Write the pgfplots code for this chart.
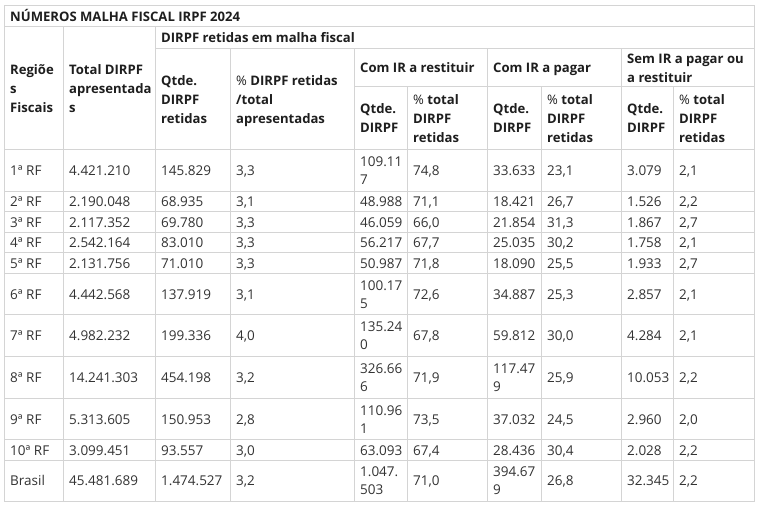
\documentclass[border=0pt]{standalone}
\usepackage{fontspec}
\setmainfont{Open Sans}
\usepackage{pgfplots}
\pgfplotsset{compat=1.18}
\definecolor{gridc}{RGB}{212,212,212}
\definecolor{txt}{RGB}{51,51,51}
\definecolor{hdr}{RGB}{30,30,30}
\pgfplotsset{gl/.style={draw=gridc, line width=1pt, mark=none, line cap=rect}}
\newcommand\C[3]{\node[anchor=base west,inner sep=0pt,text=txt,font=\fontsize{13.5}{16}\selectfont] at (axis cs:#1,#2) {#3};}
\newcommand\HD[3]{\node[anchor=base west,inner sep=0pt,text=hdr,font=\fontsize{13.1}{16}\selectfont\bfseries] at (axis cs:#1,#2) {#3};}
\begin{document}
\begin{tikzpicture}
\begin{axis}[scale only axis, width=761pt, height=510pt,
  xmin=0, xmax=761, ymin=0, ymax=510, y dir=reverse,
  axis lines=none, ticks=none, clip=false]
\fill[white] (axis cs:0,0) rectangle (axis cs:761,510);
% grid lines
\addplot[gl] coordinates {(4,6) (754,6)};
\addplot[gl] coordinates {(4,27) (754,27)};
\addplot[gl] coordinates {(155,48.5) (754,48.5)};
\addplot[gl] coordinates {(354,87) (754,87)};
\addplot[gl] coordinates {(4,150) (754,150)};
\addplot[gl] coordinates {(4,191.5) (754,191.5)};
\addplot[gl] coordinates {(4,212) (754,212)};
\addplot[gl] coordinates {(4,232.5) (754,232.5)};
\addplot[gl] coordinates {(4,253) (754,253)};
\addplot[gl] coordinates {(4,273.5) (754,273.5)};
\addplot[gl] coordinates {(4,315) (754,315)};
\addplot[gl] coordinates {(4,357) (754,357)};
\addplot[gl] coordinates {(4,398.5) (754,398.5)};
\addplot[gl] coordinates {(4,440) (754,440)};
\addplot[gl] coordinates {(4,460.5) (754,460.5)};
\addplot[gl] coordinates {(4,501.5) (754,501.5)};
\addplot[gl] coordinates {(4,6) (4,501.5)};
\addplot[gl] coordinates {(754,6) (754,501.5)};
\addplot[gl] coordinates {(63,27) (63,501.5)};
\addplot[gl] coordinates {(155,27) (155,501.5)};
\addplot[gl] coordinates {(230,48.5) (230,501.5)};
\addplot[gl] coordinates {(354,48.5) (354,501.5)};
\addplot[gl] coordinates {(487,48.5) (487,501.5)};
\addplot[gl] coordinates {(621,48.5) (621,501.5)};
\addplot[gl] coordinates {(407,87) (407,501.5)};
\addplot[gl] coordinates {(541,87) (541,501.5)};
\addplot[gl] coordinates {(673,87) (673,501.5)};
% headers
\HD{10}{21.5}{NÚMEROS MALHA FISCAL IRPF 2024}
\HD{10}{74.5}{Regiõe}\HD{10}{93.5}{s}\HD{10}{112.5}{Fiscais}
\HD{69}{74.5}{Total DIRPF}\HD{69}{93.5}{apresentada}\HD{69}{112.5}{s}
\HD{161}{42.75}{DIRPF retidas em malha fiscal}
\HD{161}{85.25}{Qtde.}\HD{161}{104.25}{DIRPF}\HD{161}{123.25}{retidas}
\HD{236}{85.25}{{\mdseries\%} DIRPF retidas}\HD{236}{104.25}{/total}\HD{236}{123.25}{apresentadas}
\HD{360}{72.75}{Com IR a restituir}
\HD{493}{72.75}{Com IR a pagar}
\HD{627}{63.25}{Sem IR a pagar ou}\HD{627}{82.25}{a restituir}
\HD{360}{114}{Qtde.}\HD{360}{133}{DIRPF}
\HD{493}{114}{Qtde.}\HD{493}{133}{DIRPF}
\HD{627}{114}{Qtde.}\HD{627}{133}{DIRPF}
\HD{413}{104.5}{{\mdseries\%} total}\HD{413}{123.5}{DIRPF}\HD{413}{142.5}{retidas}
\HD{547}{104.5}{{\mdseries\%} total}\HD{547}{123.5}{DIRPF}\HD{547}{142.5}{retidas}
\HD{679}{104.5}{{\mdseries\%} total}\HD{679}{123.5}{DIRPF}\HD{679}{142.5}{retidas}
% row 1
\C{10}{175.75}{1ª RF}\C{69}{175.75}{4.421.210}\C{161}{175.75}{145.829}\C{236}{175.75}{3,3}
\C{360}{166.75}{109.11}\C{360}{184.75}{7}\C{413}{175.75}{74,8}\C{493}{175.75}{33.633}
\C{547}{175.75}{23,1}\C{627}{175.75}{3.079}\C{679}{175.75}{2,1}
% row 2
\C{10}{206.75}{2ª RF}\C{69}{206.75}{2.190.048}\C{161}{206.75}{68.935}\C{236}{206.75}{3,1}
\C{360}{206.75}{48.988}\C{413}{206.75}{71,1}\C{493}{206.75}{18.421}
\C{547}{206.75}{26,7}\C{627}{206.75}{1.526}\C{679}{206.75}{2,2}
% row 3
\C{10}{227.25}{3ª RF}\C{69}{227.25}{2.117.352}\C{161}{227.25}{69.780}\C{236}{227.25}{3,3}
\C{360}{227.25}{46.059}\C{413}{227.25}{66,0}\C{493}{227.25}{21.854}
\C{547}{227.25}{31,3}\C{627}{227.25}{1.867}\C{679}{227.25}{2,7}
% row 4
\C{10}{247.75}{4ª RF}\C{69}{247.75}{2.542.164}\C{161}{247.75}{83.010}\C{236}{247.75}{3,3}
\C{360}{247.75}{56.217}\C{413}{247.75}{67,7}\C{493}{247.75}{25.035}
\C{547}{247.75}{30,2}\C{627}{247.75}{1.758}\C{679}{247.75}{2,1}
% row 5
\C{10}{268.25}{5ª RF}\C{69}{268.25}{2.131.756}\C{161}{268.25}{71.010}\C{236}{268.25}{3,3}
\C{360}{268.25}{50.987}\C{413}{268.25}{71,8}\C{493}{268.25}{18.090}
\C{547}{268.25}{25,5}\C{627}{268.25}{1.933}\C{679}{268.25}{2,7}
% row 6
\C{10}{299.25}{6ª RF}\C{69}{299.25}{4.442.568}\C{161}{299.25}{137.919}\C{236}{299.25}{3,1}
\C{360}{290.25}{100.17}\C{360}{308.25}{5}\C{413}{299.25}{72,6}\C{493}{299.25}{34.887}
\C{547}{299.25}{25,3}\C{627}{299.25}{2.857}\C{679}{299.25}{2,1}
% row 7
\C{10}{341}{7ª RF}\C{69}{341}{4.982.232}\C{161}{341}{199.336}\C{236}{341}{4,0}
\C{360}{332}{135.24}\C{360}{350}{0}\C{413}{341}{67,8}\C{493}{341}{59.812}
\C{547}{341}{30,0}\C{627}{341}{4.284}\C{679}{341}{2,1}
% row 8
\C{10}{382.75}{8ª RF}\C{69}{382.75}{14.241.303}\C{161}{382.75}{454.198}\C{236}{382.75}{3,2}
\C{360}{373.75}{326.66}\C{360}{391.75}{6}\C{413}{382.75}{71,9}
\C{493}{373.75}{117.47}\C{493}{391.75}{9}
\C{547}{382.75}{25,9}\C{627}{382.75}{10.053}\C{679}{382.75}{2,2}
% row 9
\C{10}{424.25}{9ª RF}\C{69}{424.25}{5.313.605}\C{161}{424.25}{150.953}\C{236}{424.25}{2,8}
\C{360}{415.25}{110.96}\C{360}{433.25}{1}\C{413}{424.25}{73,5}\C{493}{424.25}{37.032}
\C{547}{424.25}{24,5}\C{627}{424.25}{2.960}\C{679}{424.25}{2,0}
% row 10
\C{10}{455.25}{10ª RF}\C{69}{455.25}{3.099.451}\C{161}{455.25}{93.557}\C{236}{455.25}{3,0}
\C{360}{455.25}{63.093}\C{413}{455.25}{67,4}\C{493}{455.25}{28.436}
\C{547}{455.25}{30,4}\C{627}{455.25}{2.028}\C{679}{455.25}{2,2}
% row 11
\C{10}{486}{Brasil}\C{69}{486}{45.481.689}\C{161}{486}{1.474.527}\C{236}{486}{3,2}
\C{360}{477}{1.047.}\C{360}{495}{503}\C{413}{486}{71,0}
\C{493}{477}{394.67}\C{493}{495}{9}
\C{547}{486}{26,8}\C{627}{486}{32.345}\C{679}{486}{2,2}
\end{axis}
\end{tikzpicture}
\end{document}
